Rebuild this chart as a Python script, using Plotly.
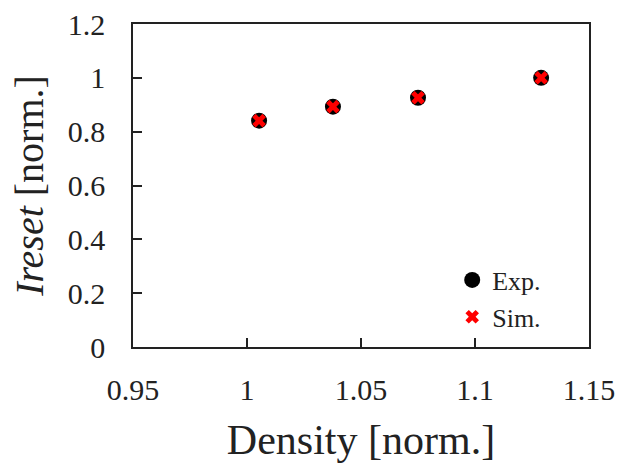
import plotly.graph_objects as go

density = [1.0053, 1.0377, 1.075, 1.129]
ireset_exp = [0.841, 0.893, 0.926, 1.0]
ireset_sim = [0.841, 0.893, 0.926, 1.0]

x_ticks = [0.95, 1.0, 1.05, 1.1, 1.15]
x_ticklabels = ["0.95", "1", "1.05", "1.1", "1.15"]
y_ticks = [0, 0.2, 0.4, 0.6, 0.8, 1.0, 1.2]
y_ticklabels = ["0", "0.2", "0.4", "0.6", "0.8", "1", "1.2"]

FONT = "Liberation Serif"

fig = go.Figure()
fig.add_trace(go.Scatter(
    x=density, y=ireset_exp, mode="markers", name="Exp.",
    marker=dict(symbol="circle", size=16, color="black"),
))
fig.add_trace(go.Scatter(
    x=density, y=ireset_sim, mode="markers", name="Sim.",
    marker=dict(symbol="x", size=12, color="#ff0000", line=dict(width=0)),
))

axis_common = dict(
    showline=True, linecolor="#222", linewidth=1.5, mirror=True,
    ticks="inside", ticklen=9, tickwidth=1.5, tickcolor="#222",
    showgrid=False, zeroline=False, automargin=False,
    tickfont=dict(family=FONT, size=30, color="#222"),
)

fig.update_layout(
    width=621, height=466,
    margin=dict(l=133, r=32, t=24, b=119),
    paper_bgcolor="white", plot_bgcolor="white",
    font=dict(family=FONT, color="#222"),
    showlegend=True,
    legend=dict(
        x=0.70, y=0.28, xanchor="left", yanchor="top",
        font=dict(family=FONT, size=26, color="#222"),
        bgcolor="rgba(0,0,0,0)", tracegroupgap=0, itemwidth=30,
    ),
    xaxis=dict(
        range=[0.95, 1.15], tickvals=x_ticks, ticktext=x_ticklabels,
        ticklabelstandoff=15,
        title=dict(text="Density [norm.]", font=dict(family=FONT, size=42, color="#222"), standoff=20),
        **axis_common,
    ),
    yaxis=dict(
        range=[0, 1.2], tickvals=y_ticks, ticktext=y_ticklabels,
        ticklabelstandoff=20,
        title=dict(text="<i>Ireset</i> [norm.]", font=dict(family=FONT, size=40, color="#222"), standoff=12),
        **axis_common,
    ),
)

fig.write_html("out.html")
